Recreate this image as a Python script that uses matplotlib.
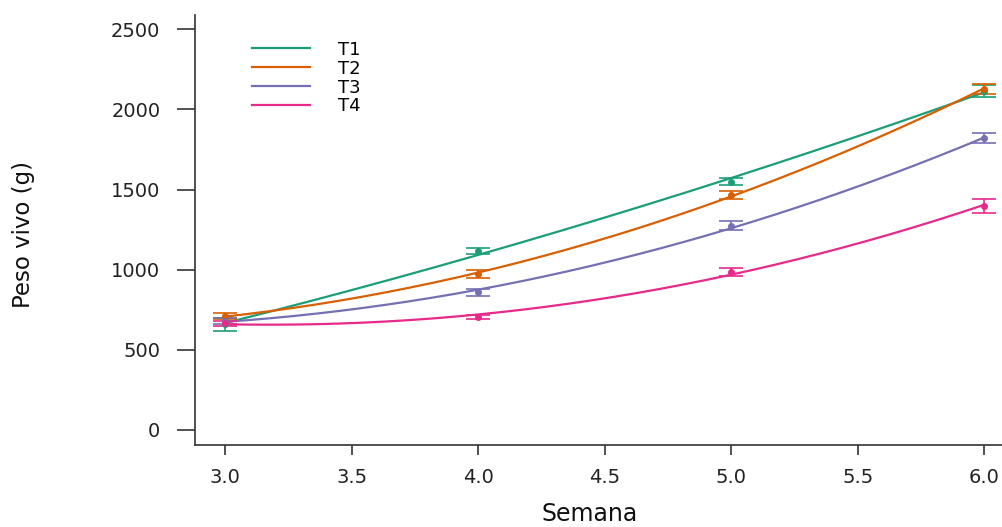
import numpy as np
import matplotlib.pyplot as plt

# semanas y peso vivo medio (g) por tratamiento
semana = np.array([3.0, 4.0, 5.0, 6.0])
t1 = np.array([660, 1115, 1550, 2115])
t2 = np.array([710, 975, 1465, 2130])
t3 = np.array([680, 860, 1275, 1820])
t4 = np.array([665, 705, 985, 1400])
# error estandar
e1 = np.array([40, 20, 20, 40])
e2 = np.array([20, 25, 24, 31])
e3 = np.array([20, 22, 26, 32])
e4 = np.array([15, 15, 26, 43])

labels = ["T1", "T2", "T3", "T4"]
colores = ["#1B9E77", "#D95F02", "#7570B3", "#E7298A"]

fig = plt.figure(figsize=(10.02, 5.27), dpi=100)
ax = fig.add_axes([0.1946, 0.1556, 0.818, 0.816])

xs = np.linspace(3.0, 6.0, 200)
for y, e, lab, c in zip([t1, t2, t3, t4], [e1, e2, e3, e4], labels, colores):
    # ajuste cuadratico
    p = np.polyfit(semana, y, 2)
    ax.plot(xs, np.polyval(p, xs), color=c, lw=1.6, label=lab)
    ax.errorbar(semana, y, yerr=e, fmt="o", color=c, ms=4,
                capsize=8.5, elinewidth=1.2, capthick=1.2)

ax.set_xlim(2.88, 6.12)
ax.set_ylim(-94, 2590)
ax.set_xticks([3.0, 3.5, 4.0, 4.5, 5.0, 5.5, 6.0])
ax.set_xticklabels(["3.0", "3.5", "4.0", "4.5", "5.0", "5.5", "6.0"])
ax.set_yticks([0, 500, 1000, 1500, 2000, 2500])

for s in ["top", "right"]:
    ax.spines[s].set_visible(False)
for s in ["left", "bottom"]:
    ax.spines[s].set_color("#333333")
    ax.spines[s].set_linewidth(1.2)

ax.tick_params(axis="x", length=7.5, width=1.2, color="#333333",
               labelsize=14, pad=9, labelcolor="#222222")
ax.tick_params(axis="y", length=13, width=1.2, color="#333333",
               labelsize=14, pad=12, labelcolor="#222222")

ax.set_xlabel("Semana", fontsize=17, color="#111111")
ax.xaxis.set_label_coords(0.482, -0.132)
ax.set_ylabel("Peso vivo (g)", fontsize=16.5, color="#111111")
ax.yaxis.set_label_coords(-0.195, 0.49)

ax.legend(loc="upper left", bbox_to_anchor=(0.0695, 0.94), frameon=False,
          fontsize=13, handlelength=3.2, handletextpad=1.55,
          labelspacing=0.05, borderpad=0, borderaxespad=0)

fig.savefig("out.png", dpi=100)
